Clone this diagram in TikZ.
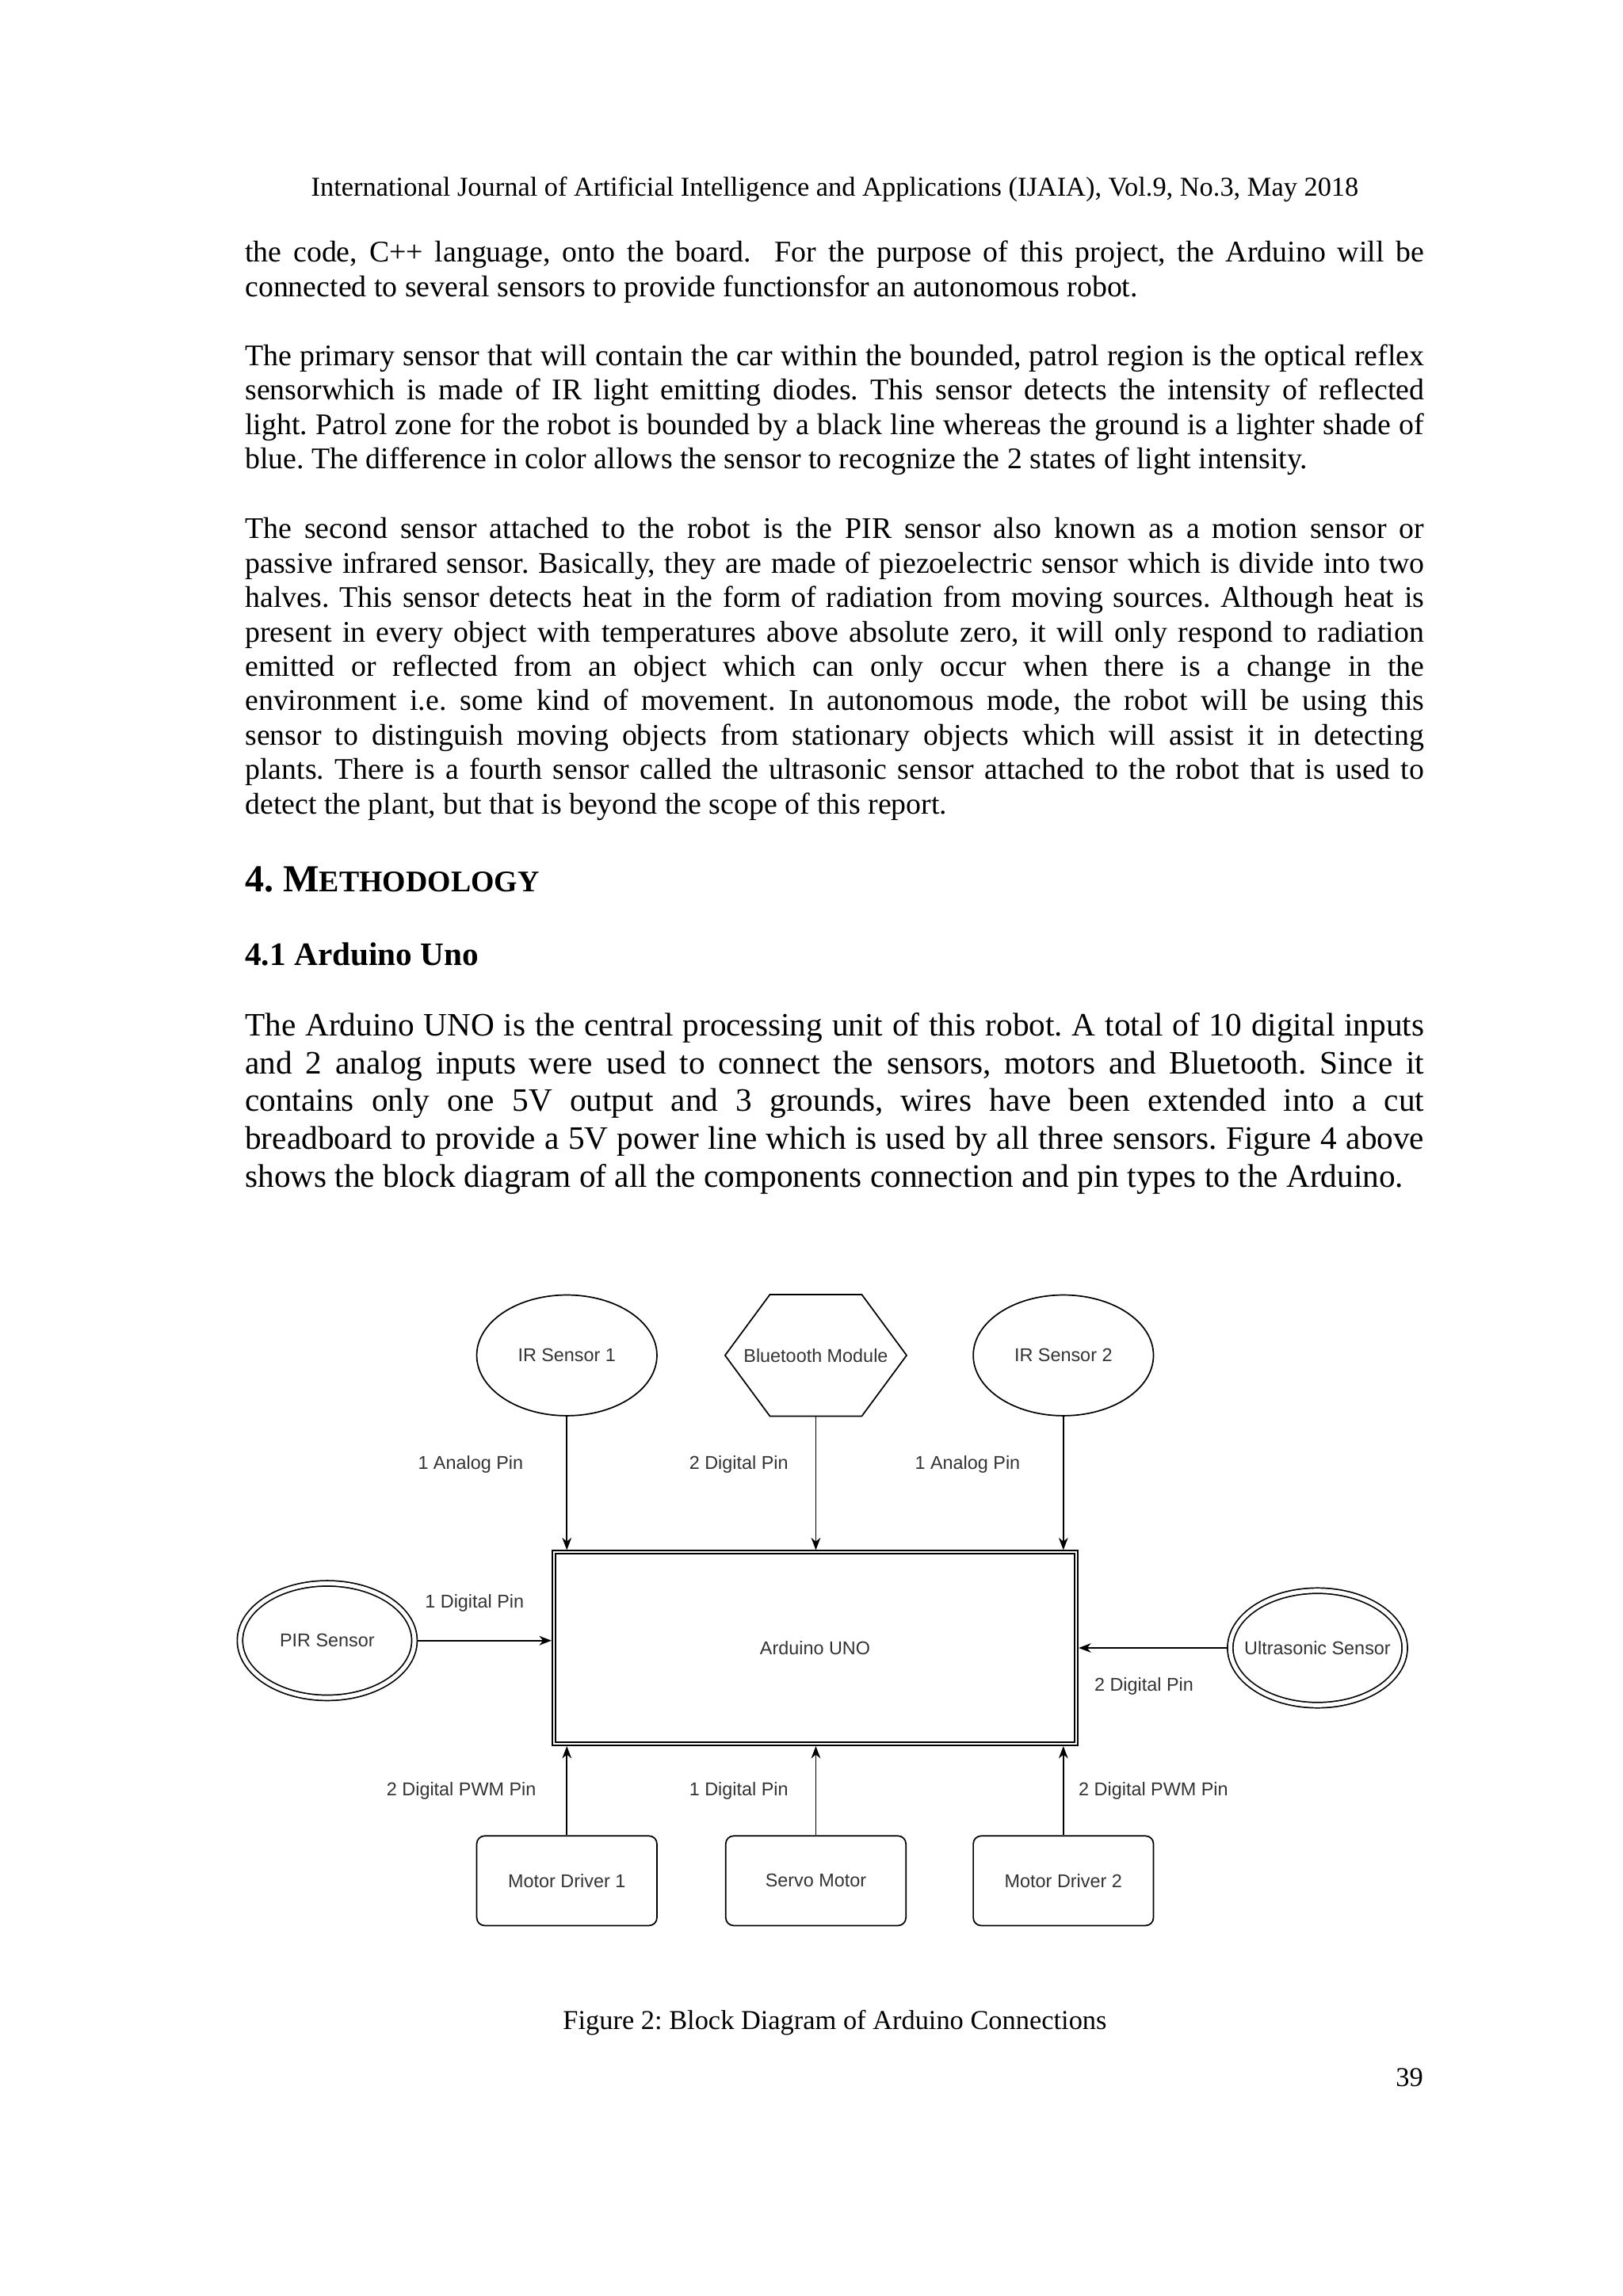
\documentclass[tikz,border=0pt]{standalone}
\usepackage{fontspec}
\setmainfont{Liberation Serif}
\newfontfamily\dsans{Liberation Sans}
\usetikzlibrary{shapes.geometric,arrows.meta,calc}
\definecolor{dtext}{HTML}{333333}
\frenchspacing
\newcommand\JL[3]{\node[txt] (#1) at (167,#2) {\makebox[432.5pt][s]{#3}};}
\newcommand\PL[3]{\node[txt] (#1) at (167,#2) {#3};}
\newcommand\JLb[3]{\node[txtb] (#1) at (167,#2) {\makebox[432.5pt][s]{#3}};}
\newcommand\PLb[3]{\node[txtb] (#1) at (167,#2) {#3};}
\newcommand\zw[1]{\makebox[0pt]{#1}}
\begin{document}
\begin{tikzpicture}[x=0.53726pt,y=-0.53726pt,
  txt/.style={anchor=base west,inner sep=0pt,font=\fontsize{11}{13}\selectfont},
  txtb/.style={anchor=base west,inner sep=0pt,font=\fontsize{12}{14}\selectfont},
  dnode/.style={font=\dsans\fontsize{6.8}{8}\selectfont,text=dtext,line width=0.5pt,inner sep=0pt},
  ell/.style={dnode,draw,ellipse,minimum width=66.1pt,minimum height=44.3pt,outer sep=0.25pt},
  dell/.style={dnode,draw,ellipse,double,double distance=1.5pt,minimum width=64.0pt,minimum height=42.0pt,outer sep=1.25pt},
  rbox/.style={dnode,draw,rectangle,rounded corners=2.9pt,minimum width=66.1pt,minimum height=32.9pt,outer sep=0.25pt},
  lbl/.style={font=\dsans\fontsize{6.8}{8}\selectfont,text=dtext,inner sep=0pt},
  arr/.style={line width=0.5pt,-{Stealth[length=4.5pt,width=3.4pt,inset=1.4pt]}}]
\useasboundingbox (0,0) rectangle (1108,1568);
\fill[white] (0,0) rectangle (1108,1568);

% header
\node[anchor=base,inner sep=0pt,font=\fontsize{10}{12}\selectfont] (hdr) at (570,134)
  {International Journal of Artificial Intelligence and Applications (IJAIA), Vol.9, No.3, May 2018};

% paragraph 1
\JL{p1a}{179}{the code, C++ language, onto the board.\ \ For the purpose of this project, the Arduino will be}
\PL{p1b}{202.5}{connected to several sensors to provide functionsfor an autonomous robot.}

% paragraph 2
\JL{p2a}{249.5}{The primary sensor that will contain the car within the bounded, patrol region is the optical reflex}
\JL{p2b}{273}{sensorwhich is made of IR light emitting diodes. This sensor detects the intensity of reflected}
\JL{p2c}{296.5}{light. Patrol zone for the robot is bounded by a black line whereas the ground is a lighter shade of}
\PL{p2d}{320}{blue. The difference in color allows the sensor to recognize the 2 states of light intensity.}

% paragraph 3
\JL{p3a}{367.8}{The second sensor attached to the robot is the PIR sensor also known as a motion sensor or}
\JL{p3b}{391.3}{passive infrared sensor. Basically, they are made of piezoelectric sensor which is divide into two}
\JL{p3c}{414.8}{halves. This sensor detects heat in the form of radiation from moving sources. Although heat is}
\JL{p3d}{438.3}{present in every object with temperatures above absolute zero, it will only respond to radiation}
\JL{p3e}{461.8}{emitted or reflected from an object which can only occur when there is a change in the}
\JL{p3f}{485.3}{environment i.e. some kind of movement. In autonomous mode, the robot will be using this}
\JL{p3g}{508.8}{sensor to distinguish moving objects from stationary objects which will assist it in detecting}
\JL{p3h}{532.3}{plants. There is a fourth sensor called the ultrasonic sensor attached to the robot that is used to}
\PL{p3i}{555.8}{detect the plant, but that is beyond the scope of this report.}

% headings
\node[anchor=base west,inner sep=0pt,font=\bfseries\fontsize{14}{16}\selectfont] (h4) at (167,609)
  {4. M{\fontsize{11}{13}\selectfont ETHODOLOGY}};
\node[anchor=base west,inner sep=0pt,font=\bfseries\fontsize{12}{14}\selectfont] (h41) at (167,659.5)
  {4.1 Arduino Uno};

% paragraph 4
\JLb{p4a}{707.5}{The Arduino UNO is the central processing unit of this robot. A total of 10 digital inputs}
\JLb{p4b}{733.3}{and 2 analog inputs were used to connect the sensors, motors and Bluetooth. Since it}
\JLb{p4c}{759}{contains only one 5V output and 3 grounds, wires have been extended into a cut}
\JLb{p4d}{784.8}{breadboard to provide a 5V power line which is used by all three sensors. Figure 4 above}
\PLb{p4e}{810.5}{shows the block diagram of all the components connection and pin types to the Arduino.}

% ---------------- diagram ----------------
\node[ell] (ir1) at (387,925.6) {\zw{IR Sensor 1}};
\node[ell] (ir2) at (726,925.6) {\zw{IR Sensor 2}};
\node[dnode,rectangle,minimum width=66.1pt,minimum height=44.1pt,outer sep=0.25pt] (bt) at (557,925.6) {\zw{Bluetooth Module}};
\draw[line width=0.5pt] (bt.west) -- ([xshift=16.44pt]bt.north west) -- ([xshift=-16.44pt]bt.north east)
  -- (bt.east) -- ([xshift=-16.44pt]bt.south east) -- ([xshift=16.44pt]bt.south west) -- cycle;

\node[dnode,draw,rectangle,double,double distance=0.66pt,minimum width=191.7pt,minimum height=70.3pt,outer sep=0.83pt] (uno) at (556.5,1125.5) {\zw{Arduino UNO}};

\node[dell] (pir) at (223.4,1120.4) {\zw{PIR Sensor}};
\node[dell] (us) at (899.5,1125.4) {\zw{Ultrasonic Sensor}};

\node[rbox] (md1) at (387,1284.4) {\zw{Motor Driver 1}};
\node[rbox] (servo) at (557,1284.4) {\zw{Servo Motor}};
\node[rbox] (md2) at (726,1284.4) {\zw{Motor Driver 2}};

% connectors
\draw[arr] (ir1.south) -- (ir1.south |- uno.north);
\draw[arr] (bt.south) -- (bt.south |- uno.north);
\draw[arr] (ir2.south) -- (ir2.south |- uno.north);
\draw[arr] (pir.east) -- (pir.east -| uno.west);
\draw[arr] (us.west) -- (us.west -| uno.east);
\draw[arr] (md1.north) -- (md1.north |- uno.south);
\draw[arr] (servo.north) -- (servo.north |- uno.south);
\draw[arr] (md2.north) -- (md2.north |- uno.south);

% labels
\node[lbl] (l1) at (321.3,1000) {1 Analog Pin};
\node[lbl] (l2) at (504.4,1000) {2 Digital Pin};
\node[lbl] (l3) at (660.6,1000) {1 Analog Pin};
\node[lbl] (l4) at (324,1094.7) {1 Digital Pin};
\node[lbl] (l5) at (781,1151.5) {2 Digital Pin};
\node[lbl] (l6) at (315,1223.3) {2 Digital PWM Pin};
\node[lbl] (l7) at (504.4,1223.3) {1 Digital Pin};
\node[lbl] (l8) at (787.5,1223.3) {2 Digital PWM Pin};

% caption and page number
\node[anchor=base,inner sep=0pt,font=\fontsize{10}{12}\selectfont] (cap) at (570,1386)
  {Figure 2: Block Diagram of Arduino Connections};
\node[anchor=base east,inner sep=0pt,font=\fontsize{10}{12}\selectfont] (pg) at (972,1425) {39};
\end{tikzpicture}
\end{document}
